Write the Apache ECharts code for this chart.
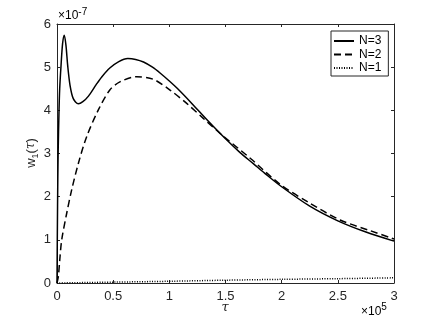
<!DOCTYPE html>
<html lang="en">

<head>
  <meta charset="UTF-8">
  <title>w1(tau)</title>
  <script src="https://cdn.jsdelivr.net/npm/echarts@6/dist/echarts.min.js"></script>
</head>

<body style="margin:0;background:#fff;">
  <div id="main" style="width:436px;height:327px;"></div>
</body>

</html>
<script type="text/javascript">
  // x in units of 1e5, y in units of 1e-7
  let tauN3 = [0, 0.005, 0.01, 0.018, 0.024, 0.036, 0.05, 0.065, 0.08, 0.095, 0.116, 0.145, 0.19, 0.23, 0.28, 0.35, 0.4,
    0.47, 0.55, 0.63, 0.7, 0.77, 0.85, 0.92, 1.0, 1.07, 1.2, 1.35, 1.5, 1.63, 1.75, 1.85, 2.0, 2.25, 2.5, 2.75, 3.0];
  let wN3 = [0, 1.8, 3.0, 4.0, 4.5, 5.04, 5.55, 5.74, 5.5, 5.04, 4.58, 4.27, 4.15, 4.2, 4.33, 4.6, 4.78,
    4.98, 5.13, 5.2, 5.18, 5.12, 5.0, 4.86, 4.68, 4.51, 4.16, 3.74, 3.34, 3.02, 2.76, 2.54, 2.23, 1.78, 1.44, 1.18, 0.97];

  let tauN2 = [0, 0.012, 0.025, 0.042, 0.086, 0.13, 0.19, 0.264, 0.368, 0.47, 0.56, 0.71, 0.857, 1.006, 1.155, 1.3, 1.45,
    1.72, 1.985, 2.25, 2.52, 2.79, 3.0];
  let wN2 = [0, 0.15, 0.55, 1.0, 1.61, 2.15, 2.77, 3.39, 4.01, 4.47, 4.66, 4.78, 4.72, 4.47, 4.16, 3.82, 3.47,
    2.89, 2.29, 1.85, 1.46, 1.21, 1.02];

  let tauN1 = [0, 0.5, 1, 1.5, 2, 2.5, 3];
  let wN1 = [0, 0.02, 0.04, 0.065, 0.085, 0.1, 0.12];

  let seriesNames = ['N=3', 'N=2', 'N=1'];

  function pairs(xs, ys) {
    return xs.map(function (x, i) { return [x, ys[i]]; });
  }

  let axisColor = '#262626';
  let font = 'Liberation Sans, Arial, Helvetica, sans-serif';

  let chart = echarts.init(document.getElementById('main'));
  let option = {
    animation: false,
    backgroundColor: '#fff',
    grid: {
      left: 57, top: 24, width: 337, height: 259,
      containLabel: false,
      outerBoundsMode: 'none'
    },
    legend: {
      data: seriesNames,
      orient: 'vertical',
      left: 331, top: 31,
      padding: [4, 7, 2, 2],
      itemWidth: 20, itemHeight: 14, itemGap: 1.5,
      itemStyle: { opacity: 0 }, // line only, no marker
      backgroundColor: '#fff',
      borderColor: axisColor, borderWidth: 1,
      textStyle: { fontFamily: font, fontSize: 12, color: '#000' }
    },
    xAxis: [{
      type: 'value', position: 'bottom',
      min: 0, max: 3, interval: 0.5,
      axisLine: { onZero: false, lineStyle: { color: axisColor, width: 1 } },
      axisTick: { inside: true, length: 3, lineStyle: { color: axisColor } },
      axisLabel: { margin: 7, fontFamily: font, fontSize: 13, color: axisColor },
      splitLine: { show: false }
    }, {
      type: 'value', position: 'top',
      min: 0, max: 3, interval: 0.5,
      axisLine: { onZero: false, lineStyle: { color: axisColor, width: 1 } },
      axisTick: { inside: true, length: 3, lineStyle: { color: axisColor } },
      axisLabel: { show: false },
      splitLine: { show: false }
    }],
    yAxis: [{
      type: 'value', position: 'left',
      min: 0, max: 6, interval: 1,
      axisLine: { show: true, onZero: false, lineStyle: { color: axisColor, width: 1 } },
      axisTick: { show: true, inside: true, length: 3, lineStyle: { color: axisColor } },
      axisLabel: { margin: 6, fontFamily: font, fontSize: 13, color: axisColor },
      splitLine: { show: false }
    }, {
      type: 'value', position: 'right',
      min: 0, max: 6, interval: 1,
      axisLine: { show: true, onZero: false, lineStyle: { color: axisColor, width: 1 } },
      axisTick: { show: true, inside: true, length: 3, lineStyle: { color: axisColor } },
      axisLabel: { show: false },
      splitLine: { show: false }
    }],
    series: [{
      name: 'N=3', type: 'line', symbol: 'none', smooth: 0.3,
      lineStyle: { color: '#000', width: 1.5 },
      itemStyle: { color: '#000' },
      data: pairs(tauN3, wN3)
    }, {
      name: 'N=2', type: 'line', symbol: 'none', smooth: 0.3,
      lineStyle: { color: '#000', width: 1.5, type: [7, 4] },
      itemStyle: { color: '#000' },
      data: pairs(tauN2, wN2)
    }, {
      name: 'N=1', type: 'line', symbol: 'none', smooth: 0.3,
      lineStyle: { color: '#000', width: 1.5, type: [1, 1.5] },
      itemStyle: { color: '#000' },
      data: pairs(tauN1, wN1)
    }],
    graphic: [{
      // y exponent
      type: 'text', left: 58, top: 7,
      style: {
        text: '{m|×10}{s|-7}',
        rich: {
          m: { fontFamily: font, fontSize: 12, color: axisColor, lineHeight: 18, verticalAlign: 'middle' },
          s: { fontFamily: font, fontSize: 10, color: axisColor, lineHeight: 10, verticalAlign: 'top' }
        }
      }
    }, {
      // x exponent
      type: 'text', left: 361, top: 302,
      style: {
        text: '{m|×10}{s|5}',
        rich: {
          m: { fontFamily: font, fontSize: 12, color: axisColor, lineHeight: 20, verticalAlign: 'middle' },
          s: { fontFamily: font, fontSize: 10, color: axisColor, lineHeight: 10, verticalAlign: 'top' }
        }
      }
    }, {
      type: 'text', x: 225, y: 308,
      style: {
        text: 'τ', fontFamily: 'DejaVu Serif, serif', fontStyle: 'italic', fontSize: 13,
        fill: axisColor, align: 'center', verticalAlign: 'middle'
      }
    }, {
      // y axis name, rotated
      type: 'text', x: 31, y: 153, rotation: Math.PI / 2,
      style: {
        text: '{m|w}{s|1}{m|(}{t|τ}{m|)}',
        align: 'center', verticalAlign: 'middle',
        rich: {
          m: { fontFamily: font, fontSize: 13, fill: axisColor, lineHeight: 18, verticalAlign: 'middle' },
          t: { fontFamily: 'DejaVu Serif, serif', fontStyle: 'italic', fontSize: 12, fill: axisColor, lineHeight: 18, verticalAlign: 'middle' },
          s: { fontFamily: font, fontSize: 9, fill: axisColor, lineHeight: 9, verticalAlign: 'bottom' }
        }
      }
    }]
  };
  chart.setOption(option);
</script>
